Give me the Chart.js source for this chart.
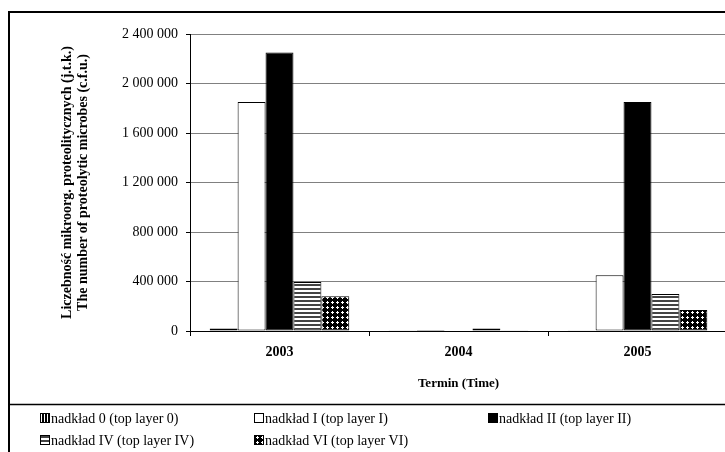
<!DOCTYPE html>
<html>
<head>
<meta charset="utf-8">
<script src="https://cdn.jsdelivr.net/npm/chart.js@4.4.1/dist/chart.umd.min.js"></script>
<style>
  html, body { margin: 0; padding: 0; background: #fff; overflow: hidden; }
  #wrap { width: 735px; height: 452px; }
</style>
</head>
<body>
<div id="wrap"><canvas id="c" width="735" height="452"></canvas></div>
<script>
// Proteolytic microbe counts (c.f.u.) per top layer and year
const categories = ['2003', '2004', '2005'];
const seriesLabels = [
  'nadkład 0 (top layer 0)',
  'nadkład I (top layer I)',
  'nadkład II (top layer II)',
  'nadkład IV (top layer IV)',
  'nadkład VI (top layer VI)'
];
const layer0   = [20000, 3000, 2000];
const layerI   = [1850000, 8000, 450000];
const layerII  = [2250000, 4000, 1850000];
const layerIV  = [395000, 20000, 300000];
const layerVI  = [280000, 3000, 170000];
const yTicks = [0, 400000, 800000, 1200000, 1600000, 2000000, 2400000];

const FONT = "'Liberation Serif', 'Times New Roman', serif";

// Fill patterns for the bars
function makePattern(w, h, draw) {
  const c = document.createElement('canvas');
  c.width = w; c.height = h;
  const g = c.getContext('2d');
  draw(g);
  return g.createPattern(c, 'repeat');
}
const pVert = makePattern(3, 3, g => {
  g.fillStyle = '#000'; g.fillRect(0, 0, 3, 3);
  g.fillStyle = '#fff'; g.fillRect(2, 0, 1, 3);
});
const pHoriz = makePattern(4, 4, g => {
  g.fillStyle = '#fff'; g.fillRect(0, 0, 4, 4);
  g.fillStyle = '#444'; g.fillRect(0, 0, 4, 2);
});
const pDots = makePattern(5, 5, g => {
  g.fillStyle = '#000'; g.fillRect(0, 0, 5, 5);
  g.fillStyle = '#fff';
  g.fillRect(1, 2, 3, 1);
  g.fillRect(2, 1, 1, 3);
});
const fills = [pVert, '#ffffff', '#000000', pHoriz, pDots];
const values = [layer0, layerI, layerII, layerIV, layerVI];

// thousands grouped with spaces
function fmt(v) {
  return String(v).replace(/\B(?=(\d{3})+(?!\d))/g, ' ');
}

// Outer frame and the legend panel below the plot
const framePlugin = {
  id: 'frameLegend',
  afterDraw(chart) {
    const ctx = chart.ctx;
    ctx.save();
    ctx.strokeStyle = '#000';
    ctx.lineWidth = 2;
    ctx.beginPath();
    ctx.moveTo(9, 460); ctx.lineTo(9, 12); ctx.lineTo(740, 12);
    ctx.stroke();
    ctx.lineWidth = 1.5;
    ctx.beginPath();
    ctx.moveTo(9, 404.5); ctx.lineTo(740, 404.5);
    ctx.stroke();

    const items = [
      { i: 0, x: 40, y: 418 },
      { i: 1, x: 254, y: 418 },
      { i: 2, x: 488, y: 418 },
      { i: 3, x: 40, y: 440 },
      { i: 4, x: 254, y: 440 }
    ];
    ctx.font = '14px ' + FONT;
    ctx.textBaseline = 'middle';
    ctx.textAlign = 'left';
    items.forEach(it => {
      const s = 10;
      ctx.fillStyle = fills[it.i];
      ctx.fillRect(it.x, it.y - s / 2, s, s);
      ctx.lineWidth = 1;
      ctx.strokeStyle = '#000';
      ctx.strokeRect(it.x + 0.5, it.y - s / 2 + 0.5, s - 1, s - 1);
      ctx.fillStyle = '#000';
      ctx.fillText(chart.data.datasets[it.i].label, it.x + s + 1, it.y + 1);
    });
    ctx.restore();
  }
};

new Chart(document.getElementById('c'), {
  type: 'bar',
  data: {
    labels: categories,
    datasets: seriesLabels.map((label, i) => ({
      label,
      data: values[i],
      backgroundColor: fills[i],
      borderColor: '#000',
      borderWidth: 1,
      borderSkipped: false,
      categoryPercentage: 0.78,
      barPercentage: 1
    }))
  },
  options: {
    responsive: false,
    animation: false,
    devicePixelRatio: 1,
    layout: { padding: { left: 0, right: 8, top: 34, bottom: 0 } },
    plugins: { legend: { display: false }, tooltip: { enabled: false } },
    scales: {
      x: {
        afterFit(scale) { scale.height = 121; },
        grid: { display: true, drawOnChartArea: false, drawTicks: true, tickLength: 5, color: '#000', offset: true },
        border: { color: '#000', width: 1 },
        ticks: { color: '#000', font: { family: FONT, size: 14, weight: 'bold' }, padding: 8 },
        title: {
          display: true,
          text: 'Termin (Time)',
          color: '#000',
          font: { family: FONT, size: 13, weight: 'bold' },
          padding: { top: 0, bottom: 61 }
        }
      },
      y: {
        min: 0,
        max: 2400000,
        afterFit(scale) { scale.width = 190; },
        afterBuildTicks(scale) { scale.ticks = yTicks.map(v => ({ value: v })); },
        grid: { color: '#808080', tickColor: '#000', tickLength: 4, drawTicks: true },
        border: { color: '#000', width: 1 },
        ticks: {
          color: '#000',
          font: { family: FONT, size: 14 },
          padding: 8,
          callback: v => fmt(v)
        },
        title: {
          display: true,
          text: ['Liczebność mikroorg. proteolitycznych (j.t.k.)', 'The number of proteolytic microbes (c.f.u.)'],
          color: '#000',
          font: { family: FONT, size: 14, weight: 'bold', lineHeight: 1.15 },
          padding: { top: 59, bottom: 0 }
        }
      }
    }
  },
  plugins: [framePlugin]
});
</script>
</body>
</html>
